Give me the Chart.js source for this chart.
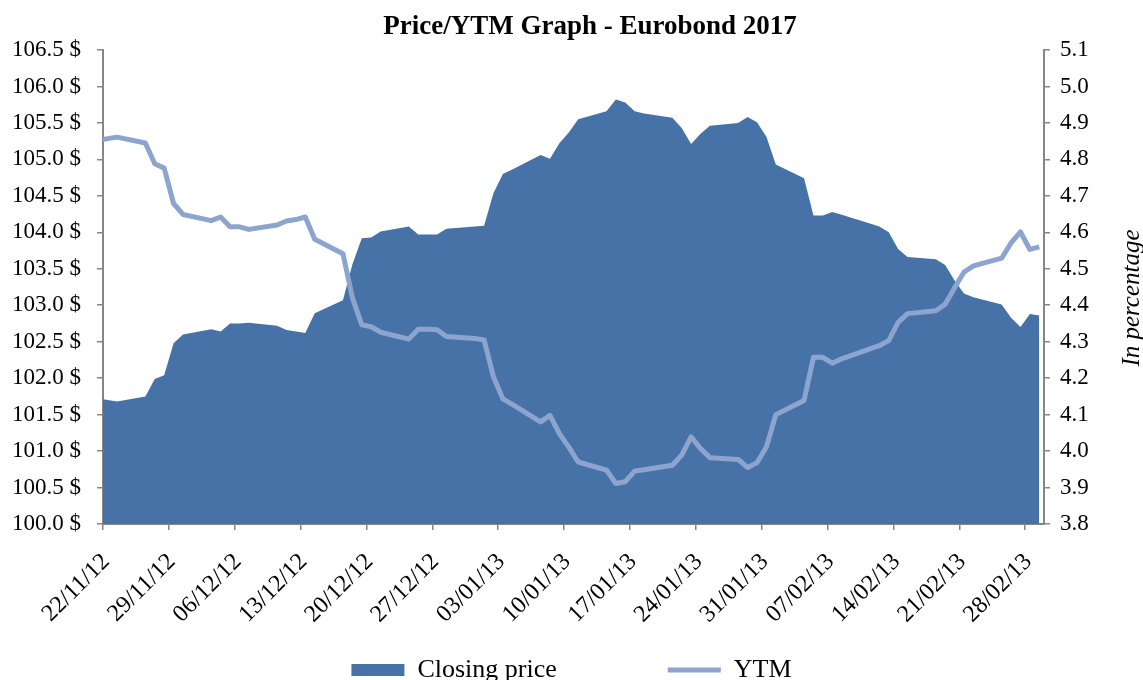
<!DOCTYPE html>
<html>
<head>
<meta charset="utf-8">
<title>Price/YTM Graph - Eurobond 2017</title>
<script src="https://cdn.jsdelivr.net/npm/chart.js@4.4.0/dist/chart.umd.min.js"></script>
<style>
  html, body { margin: 0; padding: 0; background: #fff; overflow: hidden; }
  #caixa { position: relative; width: 1143px; height: 684px; }
</style>
</head>
<body>
<div id="caixa"><canvas id="graficoPrecoYtm"></canvas></div>
<script>
// datas de negociacao (dd/mm/aa)
const datas = [
  '21/11/12', '22/11/12', '23/11/12', '26/11/12', '27/11/12', '28/11/12', '29/11/12', '30/11/12',
  '03/12/12', '04/12/12', '05/12/12', '06/12/12', '07/12/12', '10/12/12', '11/12/12', '12/12/12', '13/12/12', '14/12/12',
  '17/12/12', '18/12/12', '19/12/12', '20/12/12', '21/12/12', '24/12/12', '25/12/12', '26/12/12', '27/12/12', '28/12/12',
  '31/12/12', '01/01/13', '02/01/13', '03/01/13', '04/01/13', '07/01/13', '08/01/13', '09/01/13', '10/01/13', '11/01/13',
  '14/01/13', '15/01/13', '16/01/13', '17/01/13', '18/01/13', '21/01/13', '22/01/13', '23/01/13', '24/01/13', '25/01/13',
  '28/01/13', '29/01/13', '30/01/13', '31/01/13', '01/02/13', '04/02/13', '05/02/13', '06/02/13', '07/02/13', '08/02/13',
  '11/02/13', '12/02/13', '13/02/13', '14/02/13', '15/02/13', '18/02/13', '19/02/13', '20/02/13', '21/02/13', '22/02/13',
  '25/02/13', '26/02/13', '27/02/13', '28/02/13', '01/03/13'
];

// preco de fechamento ($)
const precos = [
  101.72, 101.70, 101.68, 101.75, 101.99, 102.04, 102.48, 102.60,
  102.67, 102.64, 102.75, 102.75, 102.76, 102.72, 102.66, 102.64, 102.62, 102.89,
  103.07, 103.56, 103.92, 103.93, 104.01, 104.08, 103.97, 103.97, 103.97, 104.05,
  104.08, 104.09, 104.54, 104.80, 104.86, 105.06, 105.01, 105.22, 105.37, 105.55,
  105.66, 105.82, 105.78, 105.66, 105.63, 105.57, 105.43, 105.21, 105.35, 105.46,
  105.50, 105.58, 105.51, 105.31, 104.93, 104.74, 104.23, 104.23, 104.28, 104.24,
  104.12, 104.08, 104.00, 103.77, 103.66, 103.63, 103.55, 103.34, 103.16, 103.11,
  103.01, 102.83, 102.70, 102.88, 102.86
];

// YTM (%)
const ytm = [
  4.852, 4.857, 4.861, 4.845, 4.788, 4.776, 4.679, 4.649,
  4.632, 4.642, 4.615, 4.615, 4.608, 4.620, 4.631, 4.635, 4.642, 4.581,
  4.541, 4.421, 4.346, 4.341, 4.326, 4.307, 4.334, 4.334, 4.333, 4.314,
  4.309, 4.305, 4.203, 4.143, 4.128, 4.080, 4.098, 4.048, 4.011, 3.970,
  3.948, 3.911, 3.916, 3.945, 3.949, 3.961, 3.989, 4.039, 4.007, 3.982,
  3.977, 3.955, 3.968, 4.011, 4.100, 4.139, 4.257, 4.257, 4.241, 4.253,
  4.280, 4.289, 4.303, 4.353, 4.377, 4.385, 4.403, 4.448, 4.491, 4.508,
  4.529, 4.571, 4.601, 4.553, 4.560
];

// rotulos do eixo x
const rotulosX = ['22/11/12', '29/11/12', '06/12/12', '13/12/12', '20/12/12', '27/12/12', '03/01/13',
  '10/01/13', '17/01/13', '24/01/13', '31/01/13', '07/02/13', '14/02/13', '21/02/13', '28/02/13'];

function diaDoEixo(texto) {
  const [d, m, a] = texto.split('/').map(Number);
  return Math.round((Date.UTC(2000 + a, m - 1, d) - Date.UTC(2012, 10, 22)) / 86400000);
}

const rotuloPorDia = {};
rotulosX.forEach(r => { rotuloPorDia[diaDoEixo(r)] = r; });

const fonte = 'Liberation Serif';
const cinza = '#868686';

// titulo principal e titulo do eixo da direita (de baixo para cima)
const textosExtras = {
  id: 'textosExtras',
  afterDraw(chart) {
    const ctx = chart.ctx;
    const area = chart.chartArea;
    ctx.save();
    ctx.fillStyle = '#000';
    ctx.textAlign = 'center';
    ctx.textBaseline = 'middle';
    ctx.font = 'bold 27px "' + fonte + '"';
    ctx.fillText('Price/YTM Graph - Eurobond 2017', 590, 27);
    ctx.translate(area.right + 88, (area.top + area.bottom) / 2 + 11);
    ctx.rotate(-Math.PI / 2);
    ctx.font = 'italic 25px "' + fonte + '"';
    ctx.fillText('In percentage', 0, 0);
    ctx.restore();
  }
};

document.addEventListener('DOMContentLoaded', () => {
  const ctx = document.getElementById('graficoPrecoYtm').getContext('2d');

  new Chart(ctx, {
    type: 'line',
    data: {
      datasets: [{
        label: 'Closing price',
        data: datas.map((d, i) => ({ x: diaDoEixo(d) + 0.5, y: precos[i] })),
        yAxisID: 'y',
        backgroundColor: '#4672a8',
        borderColor: '#4672a8',
        borderWidth: 0,
        fill: 'start',
        pointRadius: 0,
        pointStyle: 'rect',
        tension: 0,
        order: 1
      }, {
        label: 'YTM',
        data: datas.map((d, i) => ({ x: diaDoEixo(d) + 0.5, y: ytm[i] })),
        yAxisID: 'y1',
        borderColor: '#8da5ce',
        backgroundColor: '#8da5ce',
        borderWidth: 5,
        borderJoinStyle: 'round',
        fill: false,
        pointRadius: 0,
        pointStyle: 'line',
        tension: 0,
        clip: 0,
        order: 0
      }]
    },
    options: {
      responsive: true,
      maintainAspectRatio: false,
      animation: false,
      layout: { padding: { top: 50 } },
      scales: {
        x: {
          type: 'linear',
          min: 0,
          max: 100,
          afterBuildTicks: (escala) => {
            escala.ticks = rotulosX.map(r => ({ value: diaDoEixo(r) }));
          },
          afterFit: (escala) => { escala.height = 100; },
          border: { color: cinza, width: 2 },
          grid: { drawOnChartArea: false, tickLength: 6, color: cinza, lineWidth: 1.5 },
          ticks: {
            autoSkip: false,
            minRotation: 45,
            maxRotation: 45,
            labelOffset: 3,
            padding: 18,
            color: '#000',
            font: { family: fonte, size: 24 },
            callback: (valor) => rotuloPorDia[valor] || ''
          }
        },
        y: {
          position: 'left',
          min: 100,
          max: 106.5,
          afterFit: (escala) => { escala.width = 103; },
          border: { color: cinza, width: 2 },
          grid: { drawOnChartArea: false, tickLength: 6, color: cinza, lineWidth: 1.5 },
          ticks: {
            stepSize: 0.5,
            padding: 16,
            color: '#000',
            font: { family: fonte, size: 23 },
            callback: (valor) => valor.toFixed(1) + ' $'
          }
        },
        y1: {
          position: 'right',
          min: 3.8,
          max: 5.1,
          afterFit: (escala) => { escala.width = 99; },
          border: { color: cinza, width: 2 },
          grid: { drawOnChartArea: false, tickLength: 6, color: cinza, lineWidth: 1.5 },
          ticks: {
            stepSize: 0.1,
            padding: 10,
            color: '#000',
            font: { family: fonte, size: 23 },
            callback: (valor) => valor.toFixed(1)
          }
        }
      },
      plugins: {
        title: { display: false },
        legend: {
          position: 'bottom',
          maxHeight: 60,
          labels: {
            usePointStyle: true,
            pointStyleWidth: 53,
            boxHeight: 12,
            padding: 33,
            color: '#000',
            font: { family: fonte, size: 26 },
            sort: (a, b) => a.datasetIndex - b.datasetIndex,
            generateLabels: (chart) => {
              const itens = Chart.defaults.plugins.legend.labels.generateLabels(chart);
              // espaco extra depois do primeiro item, como no original
              itens.forEach(item => {
                if (item.datasetIndex === 0) item.text = item.text + '\u2002'.repeat(6);
              });
              return itens;
            }
          }
        },
        tooltip: { enabled: false }
      }
    },
    plugins: [textosExtras]
  });
});
</script>
</body>
</html>
